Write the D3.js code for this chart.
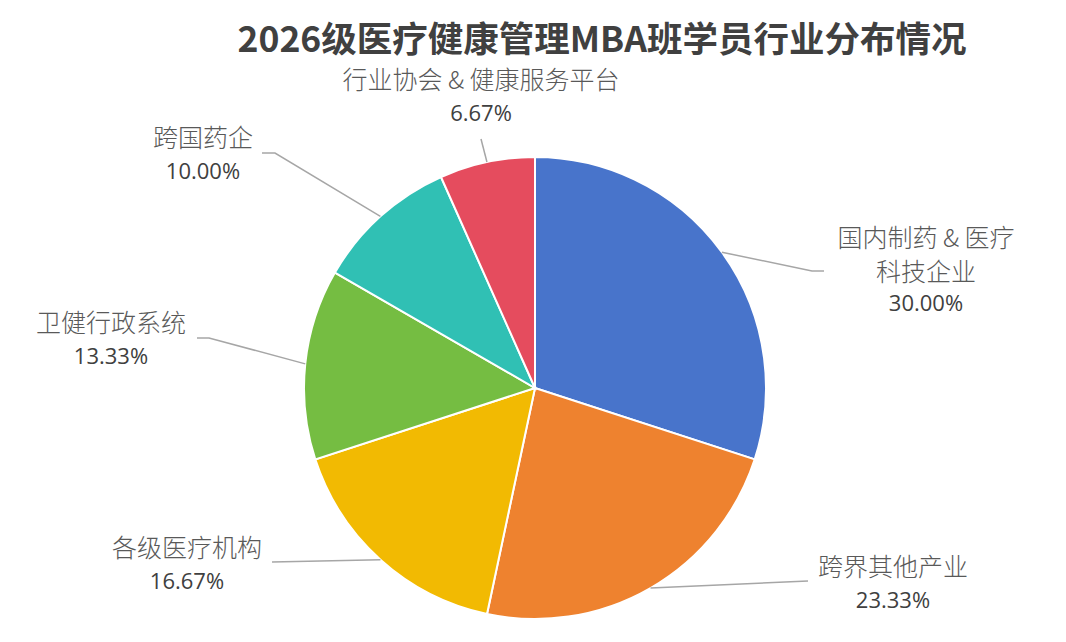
<!DOCTYPE html>
<html>
<head>
<meta charset="utf-8">
<script src="https://cdn.jsdelivr.net/npm/d3@7"></script>
<style>
  body { margin: 0; background: #fff; }
  .name { font-family: "Noto Sans CJK SC", sans-serif; font-weight: 300; font-size: 25px; fill: #595959; }
  .pct { font-family: "Open Sans", "Noto Sans", sans-serif; font-size: 22px; fill: #404040; }
</style>
</head>
<body>
<div id="main"></div>
<script>
const title = "2026级医疗健康管理MBA班学员行业分布情况";
const categories = ["国内制药 & 医疗科技企业", "跨界其他产业", "各级医疗机构", "卫健行政系统", "跨国药企", "行业协会 & 健康服务平台"];
const values = [30.00, 23.33, 16.67, 13.33, 10.00, 6.67];
const colors = ["#4874CB", "#EE822F", "#F2BA02", "#75BD42", "#30C0B4", "#E54C5E"];

// label layout: wrapped text lines, text centre, leader line points after the slice edge
const labelLines = [["国内制药 & 医疗", "科技企业"], ["跨界其他产业"], ["各级医疗机构"], ["卫健行政系统"], ["跨国药企"], ["行业协会 & 健康服务平台"]];
const labelPos = [[926, 238], [893, 567], [187, 548], [111, 323], [203, 138], [481, 80]];
const leaderPts = [[[812, 271], [824, 271]], [[808, 581]], [[272, 562]], [[209, 338], [197, 338]], [[275, 153], [262, 153]], [[481, 139]]];

const width = 1066, height = 642;
const cx = 535, cy = 388, radius = 231;

const svg = d3.select('#main')
  .append('svg')
  .attr('width', width)
  .attr('height', height);

svg.append('text')
  .attr('x', 602)
  .attr('y', 52)
  .attr('text-anchor', 'middle')
  .style('font-family', '"Noto Sans CJK SC", sans-serif')
  .style('font-weight', 'bold')
  .style('font-size', '35.5px')
  .style('fill', '#404040')
  .text(title);

const pie = d3.pie().sort(null).value(d => d);
const arcs = pie(values);
const arc = d3.arc().innerRadius(0).outerRadius(radius);
const edge = d3.arc().innerRadius(radius).outerRadius(radius);

const g = svg.append('g').attr('transform', `translate(${cx},${cy})`);

g.selectAll('path.slice')
  .data(arcs)
  .enter()
  .append('path')
  .attr('class', 'slice')
  .attr('d', arc)
  .style('fill', (d, i) => colors[i])
  .style('stroke', '#fff')
  .style('stroke-width', 2);

// leader lines
svg.selectAll('polyline')
  .data(arcs)
  .enter()
  .append('polyline')
  .attr('points', (d, i) => {
    const c = edge.centroid(d);
    const pts = [[c[0] + cx, c[1] + cy]].concat(leaderPts[i]);
    return pts.map(p => p.join(',')).join(' ');
  })
  .style('fill', 'none')
  .style('stroke', '#a6a6a6')
  .style('stroke-width', 1.5);

const labels = svg.selectAll('g.label')
  .data(arcs)
  .enter()
  .append('g')
  .attr('class', 'label');

labels.each(function (d, i) {
  const sel = d3.select(this);
  const [x, y] = labelPos[i];
  labelLines[i].forEach((t, k) => {
    sel.append('text')
      .attr('class', 'name')
      .attr('x', x)
      .attr('y', y + k * 34)
      .attr('dy', '0.36em')
      .attr('text-anchor', 'middle')
      .text(t);
  });
  sel.append('text')
    .attr('class', 'pct')
    .attr('x', x)
    .attr('y', y + labelLines[i].length * 32 + 1)
    .attr('dy', '0.36em')
    .attr('text-anchor', 'middle')
    .text(d.data.toFixed(2) + '%');
});
</script>
</body>
</html>
